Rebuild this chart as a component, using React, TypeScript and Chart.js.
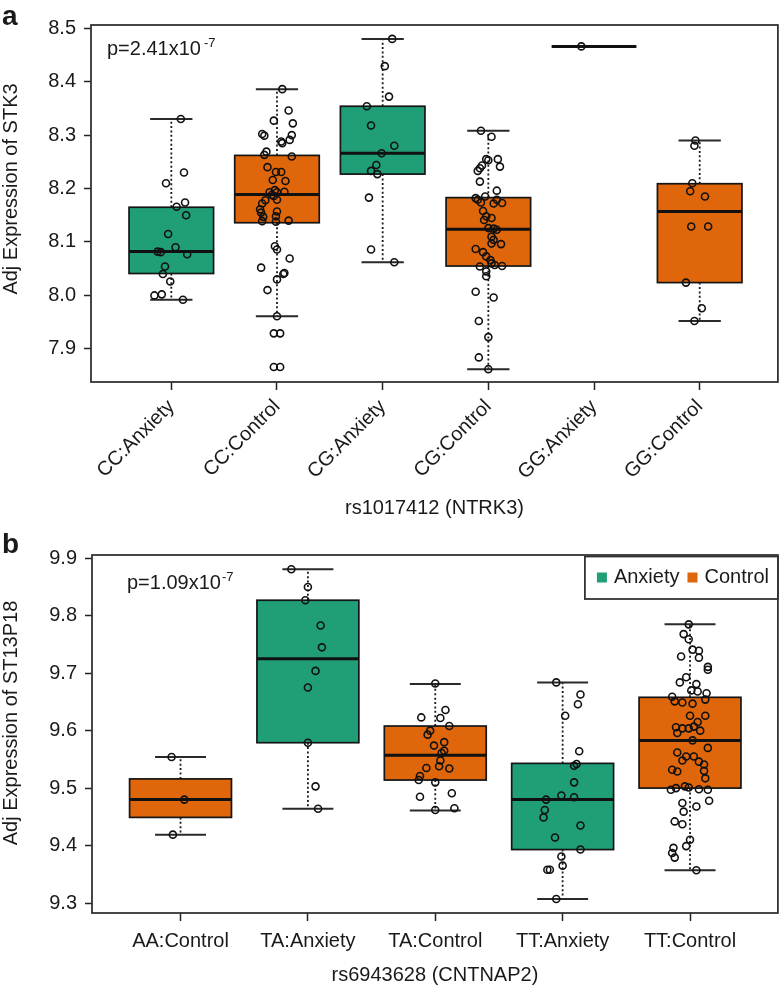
import React, { useEffect, useRef } from 'react';
import { Chart, registerables } from 'chart.js';

Chart.register(...registerables);

const FONT = '"Liberation Sans", Arial, Helvetica, sans-serif';
const TEXT = '#1a1a1a';
const GROUP_COLORS: Record<string, string> = { Anxiety: '#1f9e78', Control: '#df660a' };

// ---------------- Panel a : rs1017412 (NTRK3) ----------------
const categoriesA = ['CC:Anxiety', 'CC:Control', 'CG:Anxiety', 'CG:Control', 'GG:Anxiety', 'GG:Control'];
const groupsA = ['Anxiety', 'Control', 'Anxiety', 'Control', 'Anxiety', 'Control'];
const q1A = [8.041, 8.136, 8.227, 8.055, 8.466, 8.024];
const medianA = [8.082, 8.189, 8.266, 8.124, 8.466, 8.157];
const q3A = [8.165, 8.262, 8.354, 8.183, 8.466, 8.209];
const lowA = [7.992, 7.961, 8.062, 7.862, 8.466, 7.952];
const highA = [8.33, 8.386, 8.48, 8.308, 8.466, 8.29];
const yTicksA = [7.9, 8.0, 8.1, 8.2, 8.3, 8.4, 8.5];

const ccAnxietyValues = [8.33, 8.23, 8.21, 8.166, 8.174, 8.15, 8.115, 8.09, 8.082, 8.081, 8.077, 8.054, 8.04, 8.026, 8.0, 8.002, 7.992];
const ccAnxietyJitter = [0.09, 0.12, -0.05, 0.05, 0.13, 0.14, -0.03, 0.04, -0.13, -0.1, 0.15, -0.06, -0.08, -0.01, -0.16, -0.09, 0.11];
const ccControlValues = [8.386, 8.346, 8.327, 8.322, 8.302, 8.299, 8.3, 8.288, 8.285, 8.291, 8.269, 8.263, 8.26, 8.24, 8.231, 8.231, 8.216, 8.214, 8.193, 8.197, 8.193, 8.194, 8.188, 8.186, 8.179, 8.178, 8.172, 8.161, 8.157, 8.155, 8.148, 8.147, 8.139, 8.138, 8.14, 8.092, 8.086, 8.069, 8.052, 8.042, 8.04, 8.03, 8.01, 7.961, 7.929, 7.929, 7.866, 7.866];
const ccControlJitter = [0.05, 0.11, -0.03, 0.15, -0.14, -0.12, 0.14, 0.04, 0.05, 0.12, -0.1, -0.12, 0.14, -0.09, -0.01, 0.04, -0.04, 0.08, -0.07, -0.02, 0.0, 0.07, -0.05, -0.03, 0.0, -0.11, -0.14, -0.16, 0.0, -0.15, -0.01, -0.13, -0.14, -0.01, 0.11, -0.02, 0.0, 0.12, -0.15, 0.07, 0.06, 0.0, -0.09, 0.0, -0.03, 0.03, -0.03, 0.03];
const cgAnxietyValues = [8.48, 8.429, 8.372, 8.354, 8.318, 8.28, 8.266, 8.244, 8.233, 8.227, 8.183, 8.086, 8.062];
const cgAnxietyJitter = [0.09, 0.02, 0.06, -0.15, -0.11, 0.11, -0.01, -0.06, -0.11, -0.05, -0.13, -0.11, 0.11];
const cgControlValues = [8.308, 8.297, 8.255, 8.253, 8.255, 8.243, 8.241, 8.238, 8.233, 8.213, 8.196, 8.182, 8.185, 8.179, 8.174, 8.179, 8.172, 8.173, 8.158, 8.148, 8.145, 8.141, 8.125, 8.126, 8.123, 8.11, 8.104, 8.097, 8.096, 8.087, 8.081, 8.073, 8.066, 8.06, 8.054, 8.057, 8.055, 8.045, 8.036, 8.007, 7.996, 7.952, 7.922, 7.884, 7.862];
const cgControlJitter = [-0.07, 0.03, -0.02, 0.0, 0.09, -0.06, 0.11, -0.08, -0.1, -0.08, 0.08, -0.12, -0.03, -0.1, -0.07, 0.08, 0.05, 0.13, -0.05, -0.02, 0.03, -0.04, 0.05, 0.0, 0.08, 0.03, 0.05, 0.03, 0.12, -0.12, -0.05, -0.02, 0.02, 0.03, -0.08, 0.06, 0.13, -0.02, -0.02, -0.12, 0.05, -0.09, 0.0, -0.09, 0.0];
const ggAnxietyValues = [8.466];
const ggAnxietyJitter = [-0.12];
const ggControlValues = [8.29, 8.28, 8.21, 8.195, 8.185, 8.129, 8.129, 8.024, 7.976, 7.952];
const ggControlJitter = [-0.04, -0.05, -0.07, -0.09, 0.05, -0.08, 0.08, -0.13, 0.02, -0.05];

// ---------------- Panel b : rs6943628 (CNTNAP2) ----------------
const categoriesB = ['AA:Control', 'TA:Anxiety', 'TA:Control', 'TT:Anxiety', 'TT:Control'];
const groupsB = ['Control', 'Anxiety', 'Control', 'Anxiety', 'Control'];
const q1B = [9.449, 9.579, 9.514, 9.393, 9.5];
const medianB = [9.48, 9.725, 9.557, 9.48, 9.583];
const q3B = [9.516, 9.827, 9.608, 9.543, 9.658];
const lowB = [9.419, 9.464, 9.461, 9.307, 9.357];
const highB = [9.554, 9.881, 9.681, 9.684, 9.785];
const yTicksB = [9.3, 9.4, 9.5, 9.6, 9.7, 9.8, 9.9];

const aaControlValues = [9.554, 9.48, 9.419];
const aaControlJitter = [-0.07, 0.03, -0.06];
const taAnxietyValues = [9.881, 9.85, 9.827, 9.783, 9.745, 9.704, 9.675, 9.579, 9.503, 9.464];
const taAnxietyJitter = [-0.13, 0.0, -0.02, 0.1, 0.11, 0.06, 0.0, 0.0, 0.06, 0.08];
const taControlValues = [9.682, 9.623, 9.636, 9.622, 9.608, 9.6, 9.593, 9.58, 9.574, 9.565, 9.561, 9.548, 9.538, 9.535, 9.534, 9.521, 9.514, 9.51, 9.485, 9.491, 9.462, 9.465];
const taControlJitter = [0.0, -0.11, 0.08, 0.04, 0.11, -0.04, -0.06, 0.07, -0.01, 0.07, 0.05, 0.04, 0.03, -0.07, 0.11, -0.12, -0.13, 0.0, -0.12, 0.13, 0.0, 0.15];
const ttAnxietyValues = [9.684, 9.663, 9.646, 9.626, 9.564, 9.542, 9.539, 9.51, 9.487, 9.484, 9.48, 9.462, 9.449, 9.435, 9.414, 9.393, 9.381, 9.365, 9.358, 9.358, 9.307];
const ttAnxietyJitter = [-0.05, 0.14, 0.12, 0.02, 0.13, 0.11, 0.09, 0.09, -0.01, 0.09, -0.13, -0.14, -0.15, 0.14, -0.06, 0.14, -0.01, 0.0, -0.1, -0.12, -0.05];
const ttControlValues = [9.785, 9.768, 9.759, 9.741, 9.739, 9.727, 9.729, 9.711, 9.706, 9.693, 9.684, 9.681, 9.67, 9.668, 9.665, 9.659, 9.651, 9.649, 9.647, 9.654, 9.626, 9.626, 9.615, 9.606, 9.604, 9.604, 9.607, 9.6, 9.596, 9.583, 9.57, 9.562, 9.555, 9.555, 9.548, 9.546, 9.541, 9.532, 9.529, 9.53, 9.517, 9.497, 9.5, 9.503, 9.501, 9.498, 9.497, 9.474, 9.478, 9.468, 9.459, 9.442, 9.437, 9.41, 9.399, 9.396, 9.387, 9.379, 9.357];
const ttControlJitter = [-0.01, -0.05, -0.01, 0.02, 0.07, 0.07, -0.07, 0.14, 0.14, -0.03, -0.08, 0.05, 0.01, 0.06, 0.13, -0.14, -0.12, -0.06, 0.02, 0.12, 0.0, 0.12, 0.06, -0.11, -0.06, -0.01, 0.03, 0.08, -0.1, 0.02, 0.14, -0.1, -0.03, 0.03, -0.06, 0.07, 0.11, -0.14, -0.1, 0.11, 0.12, -0.15, -0.11, -0.04, -0.01, 0.07, 0.14, -0.06, 0.15, 0.05, -0.05, -0.12, -0.06, 0.0, -0.03, -0.13, -0.14, -0.12, 0.05];

type PanelSpec = {
  letter: string;
  categories: string[];
  groups: string[];
  q1: number[];
  median: number[];
  q3: number[];
  low: number[];
  high: number[];
  values: number[][];
  jitter: number[][];
  yTicks: number[];
  yMin: number;
  yMax: number;
  xMin: number;
  xMax: number;
  xTitle: string;
  yTitle: string;
  pMain: string;
  pSup: string;
  pX: number;
  pY: number;
  supGap: number;
  yTitleX: number;
  yTitleY: number;
  letterY: number;
  height: number;
  padTop: number;
  yWidth: number;
  xHeight: number;
  rotation: number;
  xTickPad: number;
  xTitlePadBottom: number;
  legend: boolean;
};

const panelA: PanelSpec = {
  letter: 'a',
  categories: categoriesA,
  groups: groupsA,
  q1: q1A,
  median: medianA,
  q3: q3A,
  low: lowA,
  high: highA,
  values: [ccAnxietyValues, ccControlValues, cgAnxietyValues, cgControlValues, ggAnxietyValues, ggControlValues],
  jitter: [ccAnxietyJitter, ccControlJitter, cgAnxietyJitter, cgControlJitter, ggAnxietyJitter, ggControlJitter],
  yTicks: yTicksA,
  yMin: 7.838,
  yMax: 8.506,
  xMin: 0.24,
  xMax: 6.74,
  xTitle: 'rs1017412 (NTRK3)',
  yTitle: 'Adj Expression of STK3',
  pMain: 'p=2.41x10',
  pSup: '-7',
  pX: 107,
  pY: 55,
  supGap: 3,
  yTitleX: 11,
  yTitleY: 189,
  letterY: 25,
  height: 520,
  padTop: 25,
  yWidth: 91,
  xHeight: 138,
  rotation: 45,
  xTickPad: 5,
  xTitlePadBottom: 0,
  legend: false,
};

const panelB: PanelSpec = {
  letter: 'b',
  categories: categoriesB,
  groups: groupsB,
  q1: q1B,
  median: medianB,
  q3: q3B,
  low: lowB,
  high: highB,
  values: [aaControlValues, taAnxietyValues, taControlValues, ttAnxietyValues, ttControlValues],
  jitter: [aaControlJitter, taAnxietyJitter, taControlJitter, ttAnxietyJitter, ttControlJitter],
  yTicks: yTicksB,
  yMin: 9.2826,
  yMax: 9.9057,
  xMin: 0.305,
  xMax: 5.69,
  xTitle: 'rs6943628 (CNTNAP2)',
  yTitle: 'Adj Expression of ST13P18',
  pMain: 'p=1.09x10',
  pSup: '-7',
  pX: 127,
  pY: 69,
  supGap: 1,
  yTitleX: 11,
  yTitleY: 203,
  letterY: 33,
  height: 467,
  padTop: 35,
  yWidth: 92,
  xHeight: 74,
  rotation: 0,
  xTickPad: 8,
  xTitlePadBottom: 0,
  legend: true,
};

function makeBoxPlugin(spec: PanelSpec) {
  return {
    id: 'boxplots-' + spec.letter,
    beforeDatasetsDraw(chart: any) {
      const { ctx, chartArea } = chart;
      const xs = chart.scales.x;
      const ys = chart.scales.y;
      const unit = xs.getPixelForValue(2) - xs.getPixelForValue(1);
      const half = 0.4 * unit;
      const capHalf = 0.2 * unit;
      ctx.save();
      spec.categories.forEach((_, i) => {
        const cx = xs.getPixelForValue(i + 1);
        const yq1 = ys.getPixelForValue(spec.q1[i]);
        const yq3 = ys.getPixelForValue(spec.q3[i]);
        const ymed = ys.getPixelForValue(spec.median[i]);
        const ylo = ys.getPixelForValue(spec.low[i]);
        const yhi = ys.getPixelForValue(spec.high[i]);
        // whiskers (dotted)
        ctx.strokeStyle = '#1a1a1a';
        ctx.lineWidth = 1.8;
        ctx.setLineDash([2, 2.4]);
        ctx.beginPath();
        ctx.moveTo(cx, yq3);
        ctx.lineTo(cx, yhi);
        ctx.moveTo(cx, yq1);
        ctx.lineTo(cx, ylo);
        ctx.stroke();
        ctx.setLineDash([]);
        // staples
        ctx.strokeStyle = '#2a2a2a';
        ctx.lineWidth = 2;
        ctx.beginPath();
        ctx.moveTo(cx - capHalf, yhi);
        ctx.lineTo(cx + capHalf, yhi);
        ctx.moveTo(cx - capHalf, ylo);
        ctx.lineTo(cx + capHalf, ylo);
        ctx.stroke();
        // box
        ctx.fillStyle = GROUP_COLORS[spec.groups[i]];
        ctx.fillRect(cx - half, yq3, 2 * half, yq1 - yq3);
        ctx.strokeStyle = '#151515';
        ctx.lineWidth = 1.7;
        ctx.strokeRect(cx - half, yq3, 2 * half, yq1 - yq3);
        // median
        ctx.lineWidth = 3;
        ctx.strokeStyle = '#111';
        ctx.beginPath();
        ctx.moveTo(cx - half, ymed);
        ctx.lineTo(cx + half, ymed);
        ctx.stroke();
      });
      // plot frame
      ctx.strokeStyle = '#333';
      ctx.lineWidth = 1.8;
      ctx.strokeRect(chartArea.left, chartArea.top, chartArea.right - chartArea.left, chartArea.bottom - chartArea.top);
      ctx.restore();
    },
    afterDraw(chart: any) {
      const { ctx, chartArea } = chart;
      ctx.save();
      ctx.fillStyle = TEXT;
      // panel letter
      ctx.font = `bold 28px ${FONT}`;
      ctx.textAlign = 'left';
      ctx.textBaseline = 'alphabetic';
      ctx.fillText(spec.letter, 2, spec.letterY);
      // p-value
      ctx.font = `20px ${FONT}`;
      ctx.fillText(spec.pMain, spec.pX, spec.pY);
      const w = ctx.measureText(spec.pMain).width;
      ctx.font = `13px ${FONT}`;
      ctx.fillText(spec.pSup, spec.pX + w + spec.supGap, spec.pY - 8);
      // y title
      ctx.font = `20px ${FONT}`;
      ctx.translate(spec.yTitleX, spec.yTitleY);
      ctx.rotate(-Math.PI / 2);
      ctx.textAlign = 'center';
      ctx.textBaseline = 'middle';
      ctx.fillText(spec.yTitle, 0, 0);
      ctx.setTransform(1, 0, 0, 1, 0, 0);
      // legend
      if (spec.legend) {
        const right = chartArea.right;
        const top = chartArea.top + 1.5;
        const left = right - 193;
        const bottom = top + 42.5;
        ctx.fillStyle = '#fff';
        ctx.fillRect(left, top, right - left, bottom - top);
        ctx.strokeStyle = '#333';
        ctx.lineWidth = 1.8;
        ctx.strokeRect(left, top, right - left, bottom - top);
        const base = top + 26;
        const entries = ['Anxiety', 'Control'];
        let x = left + 12;
        ctx.font = `20px ${FONT}`;
        ctx.textAlign = 'left';
        ctx.textBaseline = 'alphabetic';
        entries.forEach((name) => {
          ctx.fillStyle = GROUP_COLORS[name];
          ctx.fillRect(x, base - 10, 10, 10);
          ctx.fillStyle = TEXT;
          ctx.fillText(name, x + 17, base);
          x += 17 + ctx.measureText(name).width + 8;
        });
      }
      ctx.restore();
    },
  };
}

function buildChart(canvas: HTMLCanvasElement, spec: PanelSpec) {
  const points: { x: number; y: number }[] = [];
  spec.values.forEach((vals, i) => {
    vals.forEach((v, j) => {
      points.push({ x: i + 1 + (spec.jitter[i][j] ?? 0), y: v });
    });
  });
  const tickFont = { family: FONT, size: 20 };
  return new Chart(canvas, {
    type: 'scatter',
    data: {
      datasets: [
        {
          label: 'samples',
          data: points,
          pointRadius: 3.5,
          pointHoverRadius: 3.5,
          pointBorderColor: '#111',
          pointBackgroundColor: 'rgba(0,0,0,0)',
          pointBorderWidth: 1.6,
        },
      ],
    },
    options: {
      animation: false,
      responsive: false,
      events: [],
      layout: { padding: { top: spec.padTop, right: 2, left: 0, bottom: 0 } },
      plugins: { legend: { display: false }, tooltip: { enabled: false } },
      scales: {
        x: {
          type: 'linear',
          min: spec.xMin,
          max: spec.xMax,
          afterBuildTicks: (axis: any) => {
            axis.ticks = spec.categories.map((_, i) => ({ value: i + 1 }));
          },
          afterFit: (axis: any) => {
            axis.height = spec.xHeight;
          },
          ticks: {
            autoSkip: false,
            minRotation: spec.rotation,
            maxRotation: spec.rotation,
            padding: spec.xTickPad,
            color: TEXT,
            font: tickFont,
            callback: (v: any) => spec.categories[Math.round(Number(v)) - 1] ?? '',
          },
          grid: { drawOnChartArea: false, drawTicks: true, tickLength: 8, tickColor: '#222', tickWidth: 1.5 },
          border: { display: false },
          title: {
            display: true,
            text: spec.xTitle,
            color: TEXT,
            font: tickFont,
            padding: { top: 0, bottom: spec.xTitlePadBottom },
          },
        },
        y: {
          type: 'linear',
          min: spec.yMin,
          max: spec.yMax,
          afterBuildTicks: (axis: any) => {
            axis.ticks = spec.yTicks.map((v) => ({ value: v }));
          },
          afterFit: (axis: any) => {
            axis.width = spec.yWidth;
          },
          ticks: {
            padding: 8,
            color: TEXT,
            font: tickFont,
            callback: (v: any) => Number(v).toFixed(1),
          },
          grid: { drawOnChartArea: false, drawTicks: true, tickLength: 7, tickColor: '#222', tickWidth: 1.5 },
          border: { display: false },
        },
      },
    },
    plugins: [makeBoxPlugin(spec)],
  } as any);
}

function Panel({ spec, top }: { spec: PanelSpec; top: number }) {
  const ref = useRef<HTMLCanvasElement | null>(null);
  useEffect(() => {
    if (!ref.current) return;
    const chart = buildChart(ref.current, spec);
    return () => chart.destroy();
  }, [spec]);
  return (
    <canvas
      ref={ref}
      width={783}
      height={spec.height}
      style={{ position: 'absolute', left: 0, top, width: 783, height: spec.height, display: 'block' }}
    />
  );
}

export default function App() {
  return (
    <div style={{ position: 'absolute', left: 0, top: 0, width: 783, height: 987, background: '#fff', overflow: 'hidden' }}>
      <Panel spec={panelA} top={0} />
      <Panel spec={panelB} top={520} />
    </div>
  );
}
